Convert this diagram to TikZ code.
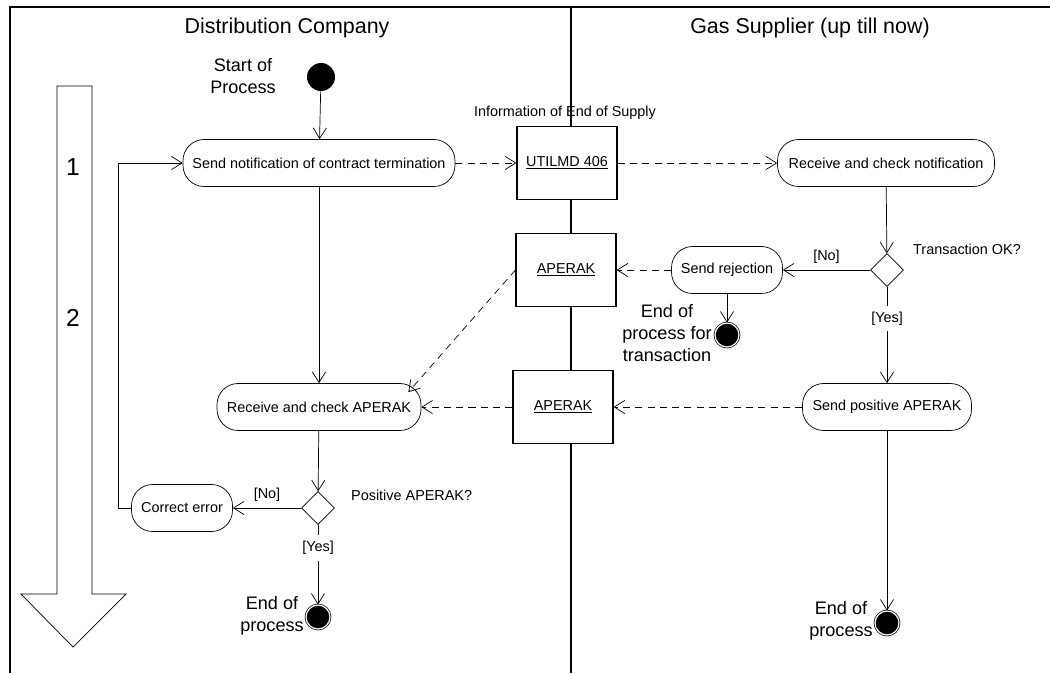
\documentclass[tikz,border=0pt]{standalone}
\usepackage{fontspec}
\setmainfont{Liberation Sans}
\usetikzlibrary{arrows.meta,shapes.geometric}
\begin{document}
\begin{tikzpicture}[x=0.02cm,y=-0.02cm,
    >={Straight Barb[length=6pt,width=7.5pt]},
    activity/.style={draw,rounded corners=12pt,minimum height=0.94cm,inner sep=1pt,font=\fontsize{8.2}{10}\selectfont},
    message/.style={draw,fill=white,line width=0.7pt,minimum width=2cm,minimum height=1.47cm,font=\fontsize{8.2}{10}\selectfont},
    decision/.style={draw,diamond,aspect=1,minimum size=0.66cm,inner sep=0pt},
    startdot/.style={circle,fill=black,minimum size=0.56cm,inner sep=0pt},
    enddot/.style={circle,draw,fill=black,double=white,double distance=0.7pt,minimum size=0.48cm,inner sep=0pt},
    small/.style={font=\fontsize{8.2}{10}\selectfont},
    big/.style={font=\fontsize{10.3}{12.5}\selectfont,align=center},
    msgflow/.style={->,dash pattern=on 4pt off 3pt}]
    \useasboundingbox (0,0) rectangle (1050,673);
    \draw[line width=0.6pt] (10,673) -- (10,7) -- (1050,7);
    \draw[line width=0.8pt] (571,7) -- (571,673);
    \draw (57,86) -- (92,86) -- (92,594) -- (126,594) -- (73,647) -- (21,594) -- (57,594) -- cycle;
    \node[font=\fontsize{14}{16}\selectfont] (one) at (73,167) {1};
    \node[font=\fontsize{14}{16}\selectfont] (two) at (73,318) {2};
    \node[font=\fontsize{12.2}{14}\selectfont] (dc) at (287,28) {Distribution Company};
    \node[font=\fontsize{12.2}{14}\selectfont] (gs) at (810,28) {Gas Supplier (up till now)};

    \node[startdot] (start) at (321,77) {};
    \node[big] (startlbl) at (243,76) {Start of\\Process};
    \node[activity,minimum width=5.44cm] (sendnot) at (319,163) {Send notification of contract termination};
    \node[message] (utilmd) at (567,163) {\underline{UTILMD 406}};
    \node[small] (info) at (565,113) {Information of End of Supply};
    \node[activity,minimum width=4.34cm] (recnot) at (886,163) {Receive and check notification};
    \node[decision] (okA) at (887,270) {};
    \node[small,anchor=west] (okAlbl) at (907,249) {Transaction OK?};
    \node[activity,minimum width=2.22cm] (sendrej) at (727,270) {Send rejection};
    \node[message] (aperakA) at (566,270) {\underline{APERAK}};
    \node[enddot] (endA) at (727,335) {};
    \node[big] (endAlbl) at (667,333) {End of\\process for\\transaction};
    \node[activity,minimum width=3.38cm] (sendpos) at (887,407) {Send positive APERAK};
    \node[message] (aperakB) at (563,407) {\underline{APERAK}};
    \node[activity,minimum width=4.08cm] (recap) at (319,407) {Receive and check APERAK};
    \node[decision] (okB) at (318,508) {};
    \node[small,anchor=west] (okBlbl) at (345,495) {Positive APERAK?};
    \node[activity,minimum width=2.02cm] (corr) at (182,508) {Correct error};
    \node[enddot] (endB) at (318,617) {};
    \node[big] (endBlbl) at (272,616) {End of\\process};
    \node[enddot] (endC) at (887,623) {};
    \node[big] (endClbl) at (841,621) {End of\\process};

    \draw[->] (start) -- (sendnot);
    \draw[msgflow] (sendnot) -- (utilmd);
    \draw[msgflow] (utilmd) -- (recnot);
    \draw[->] (recnot) -- (okA);
    \draw[->] (okA) -- node[small,above]{[No]} (sendrej);
    \draw[msgflow] (sendrej) -- (aperakA);
    \draw[->] (sendrej) -- (endA);
    \draw[->] (okA) -- node[small,fill=white,pos=0.33]{[Yes]} (sendpos);
    \draw[msgflow] (sendpos) -- (aperakB);
    \draw[msgflow] (aperakB) -- (recap);
    \draw[msgflow] (aperakA.west) -- ([shift={(-13,9)}]recap.north east);
    \draw[->] (sendnot) -- (recap);
    \draw[->] (recap) -- (okB);
    \draw[->] (okB) -- node[small,above]{[No]} (corr);
    \draw[->] (corr.west) -- ++(-13,0) |- (sendnot.west);
    \draw[->] (okB) -- node[small,fill=white,pos=0.29]{[Yes]} (endB);
    \draw[->] (sendpos) -- (endC);
\end{tikzpicture}
\end{document}
